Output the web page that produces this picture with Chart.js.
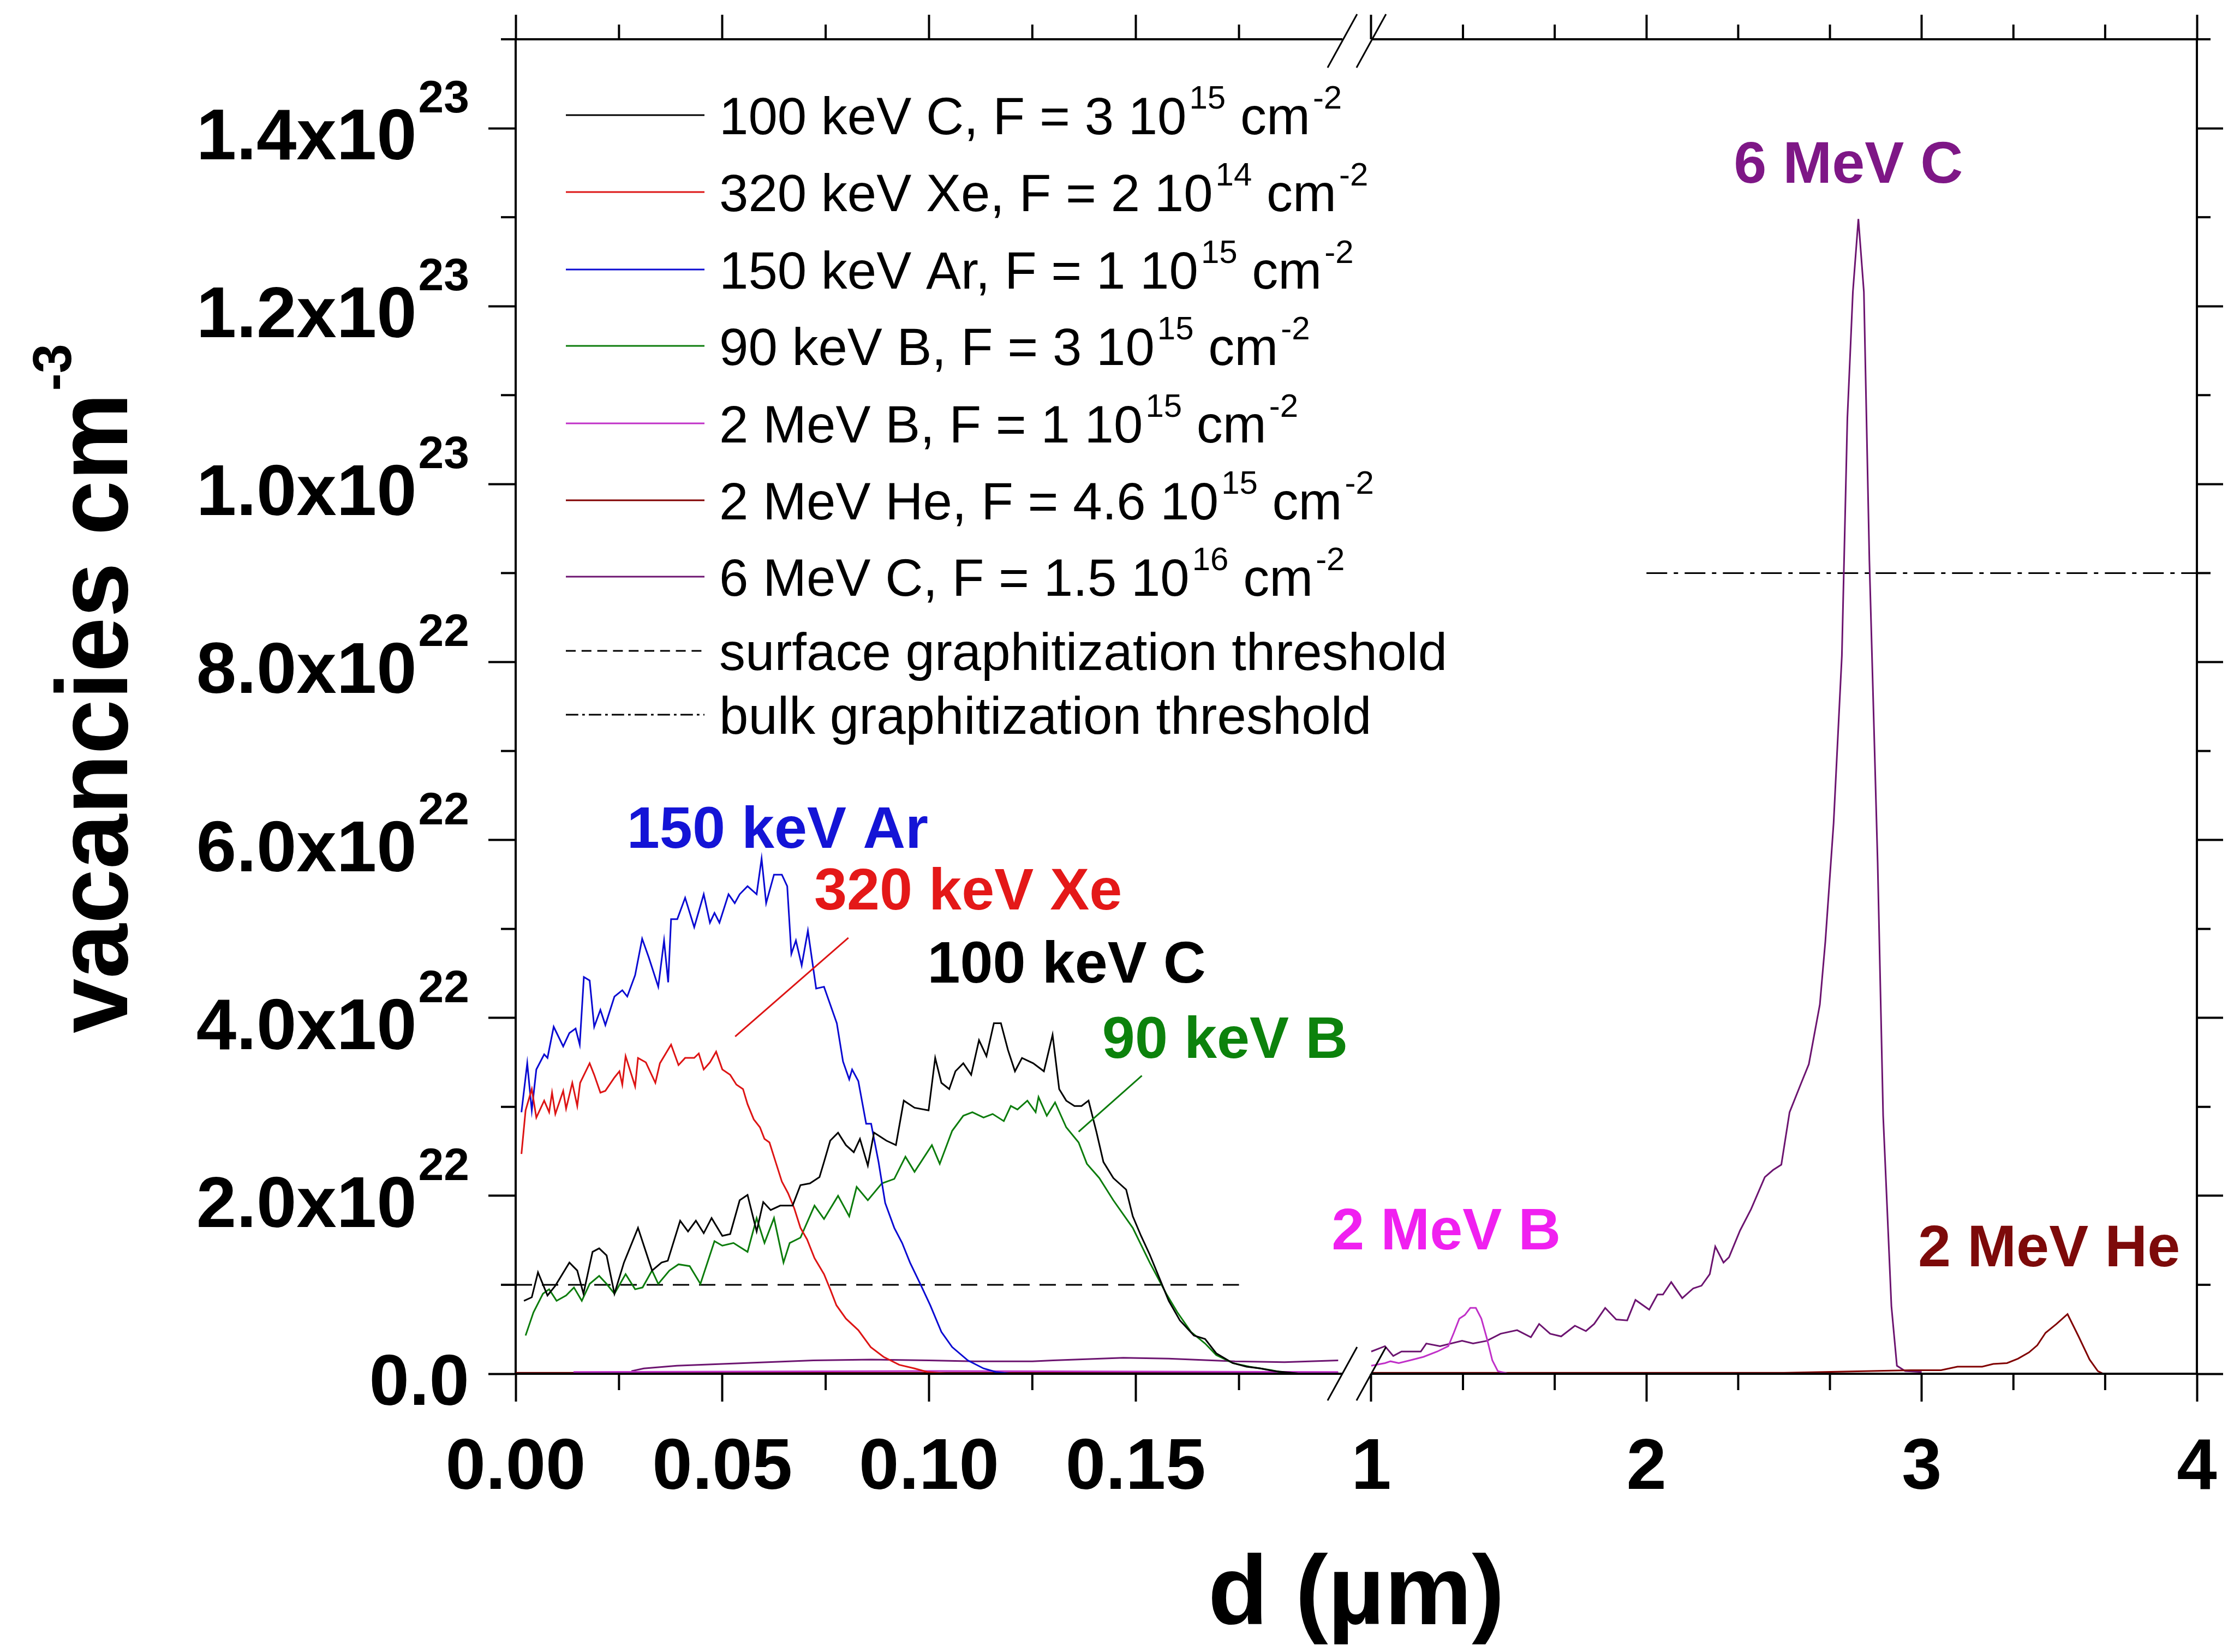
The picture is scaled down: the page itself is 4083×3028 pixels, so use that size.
<!DOCTYPE html>
<html lang="en">
<head>
<meta charset="UTF-8">
<title>Vacancy profiles</title>
<script src="https://cdn.jsdelivr.net/npm/chart.js"></script>
<style>
  html, body { margin: 0; padding: 0; background: #fff; }
  #wrap { width: 4083px; height: 3028px; }
</style>
</head>
<body>
<div id="wrap"><canvas id="grafico"></canvas></div>
<script>
// depth d in µm, vacancies in units of 1e22 cm^-3
const c100Left = [[0.0020,0.82],[0.0039,0.86],[0.0054,1.14],[0.0077,0.88],[0.0096,0.99],[0.0130,1.25],[0.0149,1.16],[0.0164,0.90],[0.0186,1.37],[0.0202,1.41],[0.0220,1.33],[0.0239,0.90],[0.0262,1.25],[0.0296,1.64],[0.0330,1.16],[0.0353,1.25],[0.0368,1.27],[0.0398,1.72],[0.0417,1.60],[0.0436,1.72],[0.0455,1.58],[0.0474,1.75],[0.0500,1.55],[0.0519,1.57],[0.0542,1.95],[0.0561,2.01],[0.0583,1.60],[0.0599,1.93],[0.0617,1.84],[0.0640,1.89],[0.0670,1.89],[0.0689,2.12],[0.0712,2.14],[0.0735,2.21],[0.0746,2.38],[0.0761,2.62],[0.0780,2.71],[0.0799,2.57],[0.0818,2.49],[0.0833,2.64],[0.0852,2.34],[0.0867,2.71],[0.0897,2.62],[0.0920,2.57],[0.0939,3.07],[0.0965,2.99],[0.0999,2.96],[0.1015,3.55],[0.1030,3.27],[0.1049,3.20],[0.1064,3.40],[0.1083,3.49],[0.1102,3.36],[0.1121,3.75],[0.1139,3.57],[0.1157,3.94],[0.1174,3.94],[0.1191,3.64],[0.1208,3.40],[0.1225,3.55],[0.1252,3.49],[0.1278,3.40],[0.1299,3.81],[0.1315,3.20],[0.1332,3.07],[0.1352,3.01],[0.1369,3.01],[0.1386,3.07],[0.1405,2.72],[0.1422,2.38],[0.1446,2.20],[0.1477,2.07],[0.1493,1.77],[0.1513,1.55],[0.1534,1.34],[0.1557,1.08],[0.1580,0.82],[0.1607,0.60],[0.1641,0.43],[0.1668,0.39],[0.1695,0.23],[0.1735,0.12],[0.1768,0.08],[0.1802,0.06],[0.1835,0.03],[0.1900,0.00]];

const xe320Left = [[0.0014,2.47],[0.0024,2.96],[0.0039,3.20],[0.0050,2.88],[0.0069,3.07],[0.0081,2.94],[0.0088,3.16],[0.0096,2.92],[0.0115,3.18],[0.0122,2.98],[0.0137,3.27],[0.0149,3.01],[0.0156,3.27],[0.0179,3.49],[0.0190,3.36],[0.0205,3.16],[0.0217,3.18],[0.0239,3.33],[0.0251,3.40],[0.0258,3.25],[0.0266,3.57],[0.0289,3.23],[0.0296,3.55],[0.0315,3.50],[0.0338,3.27],[0.0349,3.49],[0.0376,3.70],[0.0394,3.47],[0.0410,3.55],[0.0432,3.55],[0.0443,3.60],[0.0455,3.42],[0.0470,3.50],[0.0485,3.62],[0.0500,3.42],[0.0519,3.36],[0.0534,3.25],[0.0550,3.20],[0.0561,3.03],[0.0576,2.86],[0.0591,2.77],[0.0602,2.64],[0.0614,2.60],[0.0629,2.38],[0.0644,2.16],[0.0659,2.03],[0.0674,1.86],[0.0689,1.64],[0.0705,1.51],[0.0723,1.30],[0.0746,1.12],[0.0761,0.95],[0.0776,0.77],[0.0799,0.62],[0.0829,0.49],[0.0859,0.30],[0.0890,0.19],[0.0928,0.10],[0.0965,0.06],[0.0996,0.02],[0.1050,0.00]];

const ar150Left = [[0.0014,2.94],[0.0028,3.49],[0.0039,2.96],[0.0050,3.42],[0.0069,3.59],[0.0077,3.55],[0.0092,3.90],[0.0115,3.68],[0.0130,3.83],[0.0145,3.88],[0.0155,3.70],[0.0165,4.46],[0.0179,4.42],[0.0190,3.90],[0.0205,4.09],[0.0217,3.92],[0.0239,4.24],[0.0258,4.31],[0.0270,4.24],[0.0289,4.48],[0.0306,4.89],[0.0322,4.68],[0.0345,4.35],[0.0359,4.87],[0.0369,4.40],[0.0376,5.11],[0.0391,5.11],[0.0410,5.35],[0.0432,5.02],[0.0455,5.39],[0.0470,5.07],[0.0481,5.18],[0.0493,5.07],[0.0515,5.39],[0.0530,5.29],[0.0542,5.39],[0.0561,5.48],[0.0583,5.39],[0.0595,5.79],[0.0606,5.29],[0.0625,5.61],[0.0644,5.61],[0.0657,5.48],[0.0667,4.72],[0.0678,4.87],[0.0692,4.59],[0.0707,4.98],[0.0727,4.33],[0.0746,4.35],[0.0777,3.94],[0.0792,3.51],[0.0807,3.31],[0.0814,3.42],[0.0829,3.29],[0.0848,2.81],[0.0860,2.81],[0.0878,2.38],[0.0894,1.92],[0.0916,1.64],[0.0935,1.47],[0.0954,1.25],[0.0981,0.99],[0.1003,0.77],[0.1030,0.47],[0.1056,0.30],[0.1094,0.15],[0.1132,0.06],[0.1162,0.02],[0.1200,0.00]];

const b90Left = [[0.0024,0.43],[0.0043,0.69],[0.0066,0.90],[0.0081,0.95],[0.0099,0.82],[0.0122,0.88],[0.0141,0.97],[0.0160,0.82],[0.0179,1.01],[0.0202,1.10],[0.0220,1.01],[0.0239,0.90],[0.0266,1.12],[0.0289,0.95],[0.0307,0.97],[0.0330,1.16],[0.0345,1.01],[0.0372,1.16],[0.0394,1.23],[0.0421,1.21],[0.0447,1.01],[0.0481,1.49],[0.0500,1.44],[0.0527,1.47],[0.0561,1.37],[0.0583,1.75],[0.0602,1.47],[0.0625,1.75],[0.0648,1.25],[0.0663,1.47],[0.0689,1.53],[0.0723,1.89],[0.0746,1.74],[0.0780,2.00],[0.0807,1.77],[0.0825,2.10],[0.0852,1.95],[0.0886,2.14],[0.0916,2.19],[0.0943,2.44],[0.0965,2.27],[0.1007,2.57],[0.1026,2.36],[0.1056,2.73],[0.1083,2.90],[0.1105,2.94],[0.1132,2.88],[0.1154,2.92],[0.1181,2.84],[0.1198,3.01],[0.1214,2.97],[0.1238,3.07],[0.1258,2.94],[0.1265,3.11],[0.1285,2.90],[0.1305,3.05],[0.1332,2.77],[0.1362,2.60],[0.1382,2.36],[0.1412,2.20],[0.1446,1.95],[0.1493,1.64],[0.1534,1.25],[0.1574,0.90],[0.1601,0.69],[0.1634,0.47],[0.1668,0.34],[0.1695,0.21],[0.1735,0.12],[0.1775,0.08],[0.1829,0.04],[0.1849,0.02],[0.1900,0.00]];

const b2Left = [[0.014,0.02],[0.100,0.03],[0.199,0.02]];
const b2Right = [[1.00,0.09],[1.05,0.12],[1.07,0.14],[1.10,0.12],[1.14,0.15],[1.19,0.19],[1.24,0.25],[1.28,0.31],[1.30,0.46],[1.32,0.62],[1.34,0.66],[1.36,0.74],[1.38,0.74],[1.40,0.62],[1.42,0.40],[1.44,0.15],[1.46,0.03],[1.50,0.00],[1.60,0.00]];

const he2Left = [[0.000,0.01],[0.199,0.01]];
const he2Right = [[1.00,0.01],[2.50,0.01],[2.96,0.04],[3.07,0.04],[3.13,0.08],[3.22,0.08],[3.26,0.11],[3.31,0.12],[3.35,0.17],[3.39,0.24],[3.42,0.32],[3.45,0.46],[3.49,0.56],[3.53,0.67],[3.57,0.42],[3.61,0.16],[3.64,0.03],[3.66,0.00]];

const c6Left = [[0.028,0.03],[0.031,0.06],[0.039,0.09],[0.050,0.11],[0.061,0.13],[0.072,0.15],[0.086,0.16],[0.100,0.15],[0.111,0.14],[0.125,0.14],[0.130,0.15],[0.147,0.18],[0.158,0.17],[0.174,0.14],[0.186,0.13],[0.199,0.15]];
const c6Right = [[1.00,0.25],[1.05,0.31],[1.08,0.20],[1.11,0.25],[1.18,0.25],[1.20,0.34],[1.25,0.31],[1.33,0.37],[1.37,0.34],[1.42,0.37],[1.47,0.45],[1.53,0.49],[1.58,0.41],[1.61,0.56],[1.65,0.45],[1.69,0.42],[1.74,0.54],[1.78,0.48],[1.81,0.56],[1.85,0.74],[1.89,0.61],[1.93,0.60],[1.96,0.83],[2.01,0.72],[2.04,0.89],[2.06,0.89],[2.09,1.03],[2.13,0.85],[2.17,0.96],[2.20,0.99],[2.23,1.12],[2.25,1.43],[2.28,1.25],[2.30,1.31],[2.34,1.61],[2.38,1.85],[2.43,2.21],[2.46,2.29],[2.49,2.35],[2.52,2.94],[2.56,3.25],[2.59,3.48],[2.63,4.15],[2.65,4.86],[2.68,6.19],[2.71,8.07],[2.73,10.74],[2.75,12.16],[2.77,12.98],[2.79,12.16],[2.81,9.14],[2.84,5.75],[2.86,2.90],[2.89,0.76],[2.91,0.09],[2.94,0.03],[3.00,0.02]];

const surfaceThreshold = [[0,1],[0.175,1]];
const bulkThreshold = [[2,9],[4,9]];

const seriesNames = ['100 keV C', '320 keV Xe', '150 keV Ar', '90 keV B', '2 MeV B', '2 MeV He', '6 MeV C'];
const fluences = ['3 10^{15}', '2 10^{14}', '1 10^{15}', '3 10^{15}', '1 10^{15}', '4.6 10^{15}', '1.5 10^{16}'];
const lineColors = ['#000000', '#dd1414', '#0a0ad2', '#0c7c0c', '#c030c8', '#800000', '#6c1470'];
const tagColors = ['#000000', '#e41818', '#1414d6', '#0c820c', '#f020f0', '#7d0a0a', '#7e1786'];

const xTicks = [0, 0.05, 0.10, 0.15, 1, 2, 3, 4];
const xMinor = [0.025, 0.075, 0.125, 0.175, 4/3, 5/3, 7/3, 8/3, 10/3, 11/3];
const yTicks = [0, 2, 4, 6, 8, 10, 12, 14];
const yMinor = [1, 3, 5, 7, 9, 11, 13, 15];

// label anchors (left / baseline) in data units
const tags = [
  { text: '150 keV Ar', x: 0.0269, y: 5.91 },
  { text: '320 keV Xe', x: 0.0722, y: 5.22 },
  { text: '100 keV C', x: 0.0996, y: 4.40 },
  { text: '90 keV B', x: 0.1419, y: 3.55 },
  { text: '2 MeV B', x: 0.1974, y: 1.40 },
  { text: '2 MeV He', x: 2.987, y: 1.21 },
  { text: '6 MeV C', x: 2.317, y: 13.39 }
];
const tagSeries = [2, 1, 0, 3, 4, 5, 6];
const pointers = [
  { s: 1, from: [0.0531, 3.79], to: [0.0805, 4.90] },
  { s: 3, from: [0.1362, 2.72], to: [0.1515, 3.35] }
];

const FONT = '"Liberation Sans", Arial, sans-serif';

// x axis with a break between 0.2 and 1 µm
const BREAK = { leftEnd: 0.2, rightStart: 1, max: 4, leftShare: 0.4917, gapShare: 0.0172 };
class BrokenScale extends Chart.LinearScale {
  buildTicks() {
    return xTicks.map(v => ({ value: v }));
  }
  getPixelForValue(v) {
    const b = BREAK;
    let f;
    if (v <= b.leftEnd) f = v / b.leftEnd * b.leftShare;
    else if (v >= b.rightStart) f = b.leftShare + b.gapShare + (v - b.rightStart) / (b.max - b.rightStart) * (1 - b.leftShare - b.gapShare);
    else f = b.leftShare + (v - b.leftEnd) / (b.rightStart - b.leftEnd) * b.gapShare;
    return this.left + f * this.width;
  }
  getValueForPixel(p) {
    const b = BREAK;
    const f = (p - this.left) / this.width;
    if (f <= b.leftShare) return f / b.leftShare * b.leftEnd;
    if (f >= b.leftShare + b.gapShare) return b.rightStart + (f - b.leftShare - b.gapShare) / (1 - b.leftShare - b.gapShare) * (b.max - b.rightStart);
    return b.leftEnd + (f - b.leftShare) / b.gapShare * (b.rightStart - b.leftEnd);
  }
}
BrokenScale.id = 'broken';
BrokenScale.defaults = {};
Chart.register(BrokenScale);

function pts(left, right) {
  const gap = left.length && right.length ? [[0.6, null]] : [];
  return [...left, ...gap, ...right].map(([x, y]) => ({ x, y }));
}

// text with ^{...} superscripts
function drawRich(ctx, str, x, y, o) {
  const parts = str.split(/\^\{([^}]*)\}/);
  const fontFor = i => `${o.weight} ${i % 2 ? o.sup : o.size}px ${FONT}`;
  let w = 0;
  parts.forEach((p, i) => {
    ctx.font = fontFor(i);
    w += ctx.measureText(p).width + (i % 2 ? o.gap : 0);
  });
  let cx = o.align === 'right' ? x - w : x;
  parts.forEach((p, i) => {
    ctx.font = fontFor(i);
    if (i % 2) cx += o.gap;
    ctx.fillText(p, cx, i % 2 ? y - o.rise : y);
    cx += ctx.measureText(p).width;
  });
  return w;
}

function line(ctx, x1, y1, x2, y2) {
  ctx.beginPath();
  ctx.moveTo(x1, y1);
  ctx.lineTo(x2, y2);
  ctx.stroke();
}

const decor = {
  id: 'decor',
  afterDraw(chart) {
    const { ctx, chartArea: a } = chart;
    const x = chart.scales.x, y = chart.scales.y;
    ctx.save();
    ctx.strokeStyle = '#000';
    ctx.fillStyle = '#000';
    ctx.lineCap = 'butt';

    // horizontal axis lines with the break
    const xa = x.getPixelForValue(BREAK.leftEnd), xb = x.getPixelForValue(BREAK.rightStart);
    ctx.lineWidth = 4;
    [a.top, a.bottom].forEach(yy => {
      line(ctx, a.left - 2, yy, xa, yy);
      line(ctx, xb, yy, a.right + 2, yy);
    });
    ctx.lineWidth = 3;
    [a.top + 3, a.bottom].forEach(yy => {
      [xa, xb].forEach(xx => line(ctx, xx - 27, yy + 49, xx + 27, yy - 49));
    });

    // minor ticks
    ctx.lineWidth = 4;
    xMinor.forEach(v => {
      const px = x.getPixelForValue(v);
      line(ctx, px, a.bottom, px, a.bottom + 30);
      line(ctx, px, a.top, px, a.top - 27);
    });
    yMinor.forEach(v => {
      const py = y.getPixelForValue(v);
      line(ctx, a.left, py, a.left - 27, py);
      line(ctx, a.right, py, a.right + 25, py);
    });

    // y tick labels
    ctx.textAlign = 'left';
    ctx.textBaseline = 'alphabetic';
    yTicks.forEach(v => {
      const py = y.getPixelForValue(v);
      let txt = '0.0';
      if (v > 0) {
        const e = v >= 10 ? 23 : 22;
        txt = (v >= 10 ? v / 10 : v).toFixed(1) + 'x10^{' + e + '}';
      }
      drawRich(ctx, txt, a.left - 85, py + 57, { weight: 'bold', size: 132, sup: 84, rise: 86, gap: 3, align: 'right' });
    });

    // y title
    ctx.save();
    ctx.translate(233, 1894);
    ctx.rotate(-Math.PI / 2);
    ctx.scale(0.97, 1);
    drawRich(ctx, 'vacancies cm^{-3}', 0, 0, { weight: 'bold', size: 186, sup: 100, rise: 103, gap: 4 });
    ctx.restore();

    // legend
    const rows = [139, 280, 422, 562, 704, 845, 985, 1121, 1238];
    const ds = chart.data.datasets;
    rows.forEach((r, i) => {
      const d = ds[i];
      const ly = a.top + r;
      ctx.strokeStyle = d.borderColor;
      ctx.lineWidth = 3;
      ctx.setLineDash(d.borderDash ? d.borderDash.map(v => v * 0.6) : []);
      line(ctx, a.left + 92, ly, a.left + 346, ly);
      ctx.setLineDash([]);
      ctx.fillStyle = '#000';
      drawRich(ctx, d.legendText, a.left + 373, ly + 35, { weight: 'normal', size: 96, sup: 60, rise: 47, gap: 5 });
    });

    // curve labels and pointers
    ctx.font = `bold 108px ${FONT}`;
    tags.forEach((t, i) => {
      ctx.fillStyle = tagColors[tagSeries[i]];
      ctx.fillText(t.text, x.getPixelForValue(t.x), y.getPixelForValue(t.y));
    });
    ctx.lineWidth = 3;
    pointers.forEach(p => {
      ctx.strokeStyle = lineColors[p.s];
      line(ctx, x.getPixelForValue(p.from[0]), y.getPixelForValue(p.from[1]),
        x.getPixelForValue(p.to[0]), y.getPixelForValue(p.to[1]));
    });
    ctx.restore();
  }
};

const curves = [c100Left, xe320Left, ar150Left, b90Left, b2Left, he2Left, c6Left];
const rights = [[], [], [], [], b2Right, he2Right, c6Right];

const datasets = seriesNames.map((n, i) => ({
  label: n,
  legendText: `${n}, F = ${fluences[i]} cm^{-2}`,
  data: pts(curves[i], rights[i]),
  borderColor: lineColors[i],
  borderWidth: 3
}));
datasets.push({
  label: 'surface graphitization threshold',
  legendText: 'surface graphitization threshold',
  data: pts(surfaceThreshold, []),
  borderColor: '#000',
  borderWidth: 3,
  borderDash: [30, 18]
});
datasets.push({
  label: 'bulk graphitization threshold',
  legendText: 'bulk graphitization threshold',
  data: pts(bulkThreshold, []),
  borderColor: '#000',
  borderWidth: 3,
  borderDash: [38, 12, 8, 12]
});

const tickFont = { family: FONT, size: 132, weight: 'bold' };
// keep tick-label overhang from shrinking the plot area
const noPad = s => { s.paddingLeft = 0; s.paddingRight = 0; s.paddingTop = 0; s.paddingBottom = 0; };

new Chart(document.getElementById('grafico'), {
  type: 'line',
  data: { datasets },
  options: {
    responsive: true,
    maintainAspectRatio: false,
    devicePixelRatio: 1,
    animation: false,
    spanGaps: false,
    elements: { point: { radius: 0 }, line: { tension: 0, borderCapStyle: 'butt' } },
    layout: { padding: { left: 895, right: 9, top: 27, bottom: 0 } },
    plugins: { legend: { display: false }, tooltip: { enabled: false } },
    scales: {
      x: {
        type: 'broken', position: 'bottom', min: 0, max: 4,
        afterFit: s => { s.height = 510; noPad(s); },
        border: { display: false },
        grid: { drawOnChartArea: false, tickLength: 51, tickWidth: 4, tickColor: '#000' },
        ticks: {
          autoSkip: false, maxRotation: 0, padding: 44, color: '#000', font: tickFont,
          callback: v => v < 0.5 ? v.toFixed(2) : String(v)
        },
        title: {
          display: true, text: 'd (µm)', color: '#000',
          font: { family: FONT, size: 180, weight: 'bold', lineHeight: 1 },
          padding: { top: 0, bottom: 11 }
        }
      },
      xTop: {
        type: 'broken', position: 'top', min: 0, max: 4,
        afterFit: s => { s.height = 45; noPad(s); },
        border: { display: false },
        grid: { drawOnChartArea: false, tickLength: 45, tickWidth: 4, tickColor: '#000' },
        ticks: { display: false, autoSkip: false }
      },
      y: {
        type: 'linear', position: 'left', min: 0, max: 15,
        afterBuildTicks: s => { s.ticks = yTicks.map(v => ({ value: v })); },
        afterFit: s => { s.width = 50; noPad(s); },
        border: { display: true, width: 4, color: '#000' },
        grid: { drawOnChartArea: false, tickLength: 50, tickWidth: 4, tickColor: '#000' },
        ticks: { display: false }
      },
      yRight: {
        type: 'linear', position: 'right', min: 0, max: 15,
        afterBuildTicks: s => { s.ticks = yTicks.map(v => ({ value: v })); },
        afterFit: s => { s.width = 48; noPad(s); },
        border: { display: true, width: 4, color: '#000' },
        grid: { drawOnChartArea: false, tickLength: 48, tickWidth: 4, tickColor: '#000' },
        ticks: { display: false }
      }
    }
  },
  plugins: [decor]
});
</script>
</body>
</html>
